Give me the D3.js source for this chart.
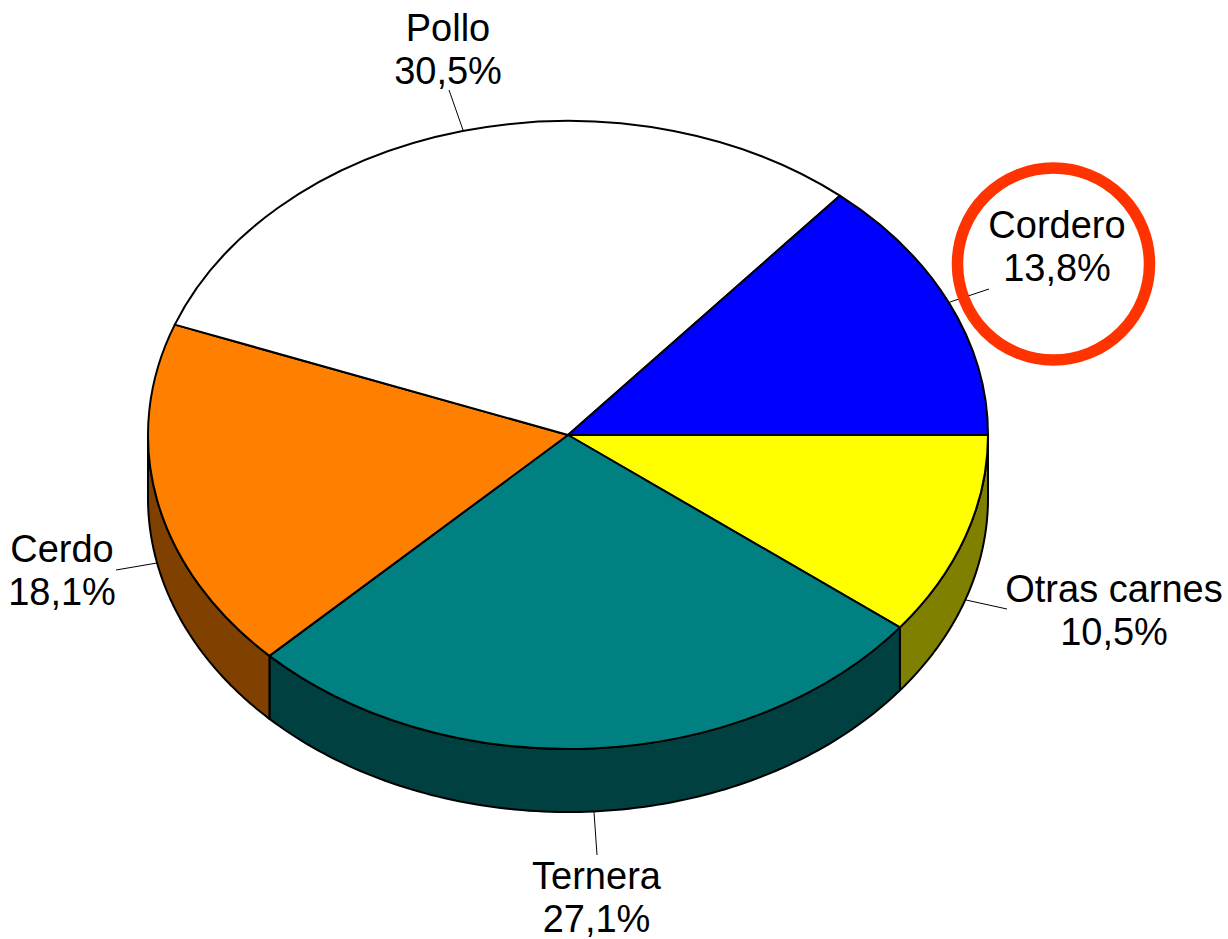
<!DOCTYPE html>
<html><head><meta charset="utf-8">
<script src="https://cdnjs.cloudflare.com/ajax/libs/d3/7.8.5/d3.min.js"></script>
<style>html,body{margin:0;background:#fff}svg{display:block}text{font-family:"Liberation Sans",Arial,sans-serif;font-size:38px;fill:#000;text-anchor:middle}</style>
</head><body><svg id="c" width="1228" height="939"></svg>
<script>
const categories=["Otras carnes","Ternera","Cerdo","Pollo","Cordero"];
const shares=[10.5,27.1,18.14,30.5,13.8];
const labels=["10,5%","27,1%","18,1%","30,5%","13,8%"];
const topColors=["#ffff00","#008080","#ff8000","#ffffff","#0000ff"];
const sideColors=["#808000","#004040","#804000","#808080","#000080"];
const labelAnchors=[[1114,602],[596.5,889],[62,562],[448,41],[1057,238]];
const leaderEnds=[[1007,609],[597,855],[116,570],[449,90],[989,289]];
const leaderStarts=[[966,600],[594,812],[157,563],[463,130],[950,302]];

const cx=568,cy=435,rx=420,ry=314,depth=63;
const svg=d3.select("#c");
const pie=d3.pie().sort(null).value(d=>d).startAngle(Math.PI/2).endAngle(Math.PI/2+2*Math.PI);
const arcs=pie(shares);
const sx=d3.scaleLinear().domain([-1,1]).range([cx-rx,cx+rx]);
const sy=d3.scaleLinear().domain([-1,1]).range([cy-ry,cy+ry]);
const px=a=>sx(Math.sin(a)),py=a=>sy(-Math.cos(a));

// side walls: only the front half of the rim (angles between PI/2 and 3PI/2)
const walls=svg.append("g");
arcs.forEach((d,i)=>{
  const a0=Math.max(d.startAngle,Math.PI/2),a1=Math.min(d.endAngle,1.5*Math.PI);
  if(a1<=a0)return;
  const p=d3.path();
  p.moveTo(px(a0),py(a0));
  const top=d3.range(0,101).map(k=>a0+(a1-a0)*k/100);
  top.forEach(a=>p.lineTo(px(a),py(a)));
  top.slice().reverse().forEach(a=>p.lineTo(px(a),py(a)+depth));
  p.closePath();
  walls.append("path").attr("d",p.toString()).attr("fill",sideColors[i]).attr("stroke","#000").attr("stroke-width",2).attr("stroke-linejoin","round");
});

// top face
const arc=d3.arc().innerRadius(0).outerRadius(rx);
const face=svg.append("g").attr("transform",`translate(${cx},${cy}) scale(1,${ry/rx})`);
face.selectAll("path").data(arcs).join("path").attr("d",arc)
  .attr("fill",(d,i)=>topColors[i]).attr("stroke","#000").attr("stroke-width",2)
  .attr("vector-effect","non-scaling-stroke").attr("stroke-linejoin","round");

// leaders
svg.append("g").selectAll("line").data(categories).join("line")
  .attr("x1",(d,i)=>leaderStarts[i][0]).attr("y1",(d,i)=>leaderStarts[i][1])
  .attr("x2",(d,i)=>leaderEnds[i][0]).attr("y2",(d,i)=>leaderEnds[i][1])
  .attr("stroke","#000").attr("stroke-width",1);

// labels
const g=svg.append("g");
categories.forEach((c,i)=>{
  const [x,y]=labelAnchors[i];
  g.append("text").attr("x",x).attr("y",y).text(c);
  g.append("text").attr("x",x).attr("y",y+43).text(labels[i]);
});

// highlight ring
svg.append("circle").attr("cx",1053.5).attr("cy",264).attr("r",96).attr("fill","none").attr("stroke","#ff3300").attr("stroke-width",11.5);
</script></body></html>
